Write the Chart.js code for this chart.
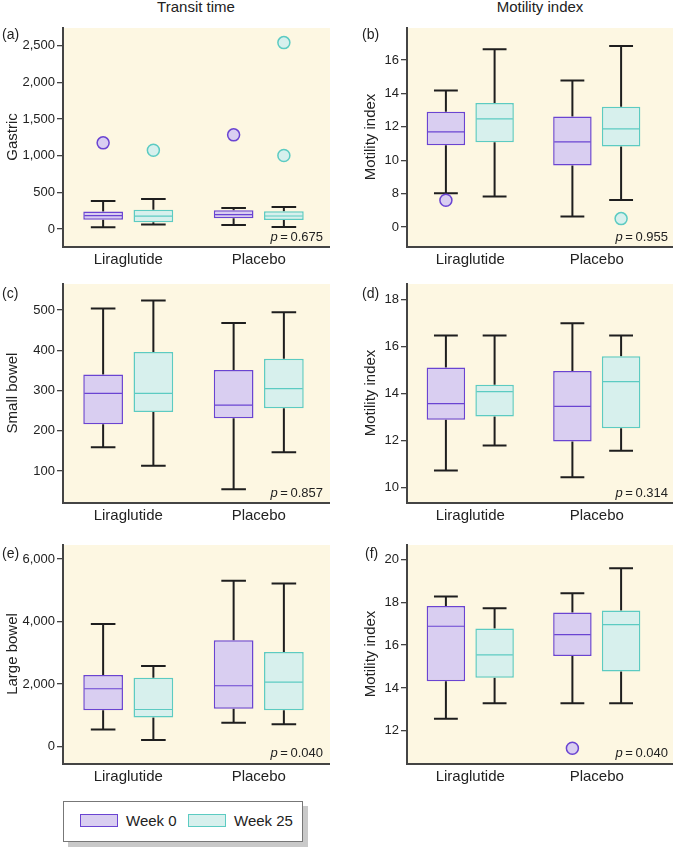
<!DOCTYPE html>
<html lang="en">
<head>
<meta charset="UTF-8">
<title>Transit time and motility index</title>
<script src="https://cdn.jsdelivr.net/npm/chart.js"></script>
<style>
  body {
    margin: 0;
    width: 673px;
    height: 847px;
    position: relative;
    overflow: hidden;
    background: #fff;
    font-family: "Liberation Sans", Arial, sans-serif;
    color: #222;
  }
  .panel { position: absolute; }
  .txt { position: absolute; white-space: nowrap; line-height: 16px; }
  .colTitle { font-size: 15px; top: -1px; transform: translateX(-50%); }
  .tag { font-size: 14px; }
  .pval { font-size: 13px; width: 90px; text-align: right; }
  .legend {
    position: absolute;
    left: 63px; top: 801px;
    width: 238px; height: 39px;
    border: 1px solid #777;
    background: #fff;
    box-shadow: 5px 5px 0 #c9c9c9;
  }
  .legend .sw { position: absolute; top: 12px; width: 36px; height: 11px; border: 1.5px solid; }
  .legend .lab { position: absolute; top: 11px; font-size: 15px; line-height: 16px; }
</style>
</head>
<body>
<div class="txt colTitle" style="left:196px">Transit time</div>
<div class="txt colTitle" style="left:540px">Motility index</div>

<canvas id="pa" class="panel"></canvas>
<canvas id="pb" class="panel"></canvas>
<canvas id="pc" class="panel"></canvas>
<canvas id="pd" class="panel"></canvas>
<canvas id="pe" class="panel"></canvas>
<canvas id="pf" class="panel"></canvas>

<div class="txt tag" style="left:2px;top:26px">(a)</div>
<div class="txt tag" style="left:362px;top:26px">(b)</div>
<div class="txt tag" style="left:2px;top:285px">(c)</div>
<div class="txt tag" style="left:362px;top:285px">(d)</div>
<div class="txt tag" style="left:2px;top:545px">(e)</div>
<div class="txt tag" style="left:365px;top:545px">(f)</div>

<div class="txt pval" style="left:233px;top:229px"><i>p</i>&thinsp;=&thinsp;0.675</div>
<div class="txt pval" style="left:578px;top:229px"><i>p</i>&thinsp;=&thinsp;0.955</div>
<div class="txt pval" style="left:233px;top:485px"><i>p</i>&thinsp;=&thinsp;0.857</div>
<div class="txt pval" style="left:578px;top:485px"><i>p</i>&thinsp;=&thinsp;0.314</div>
<div class="txt pval" style="left:233px;top:745px"><i>p</i>&thinsp;=&thinsp;0.040</div>
<div class="txt pval" style="left:578px;top:745px"><i>p</i>&thinsp;=&thinsp;0.040</div>

<div class="legend">
  <div class="sw" style="left:16px;background:#d9cef1;border-color:#6a44d2"></div>
  <div class="lab" style="left:62px">Week 0</div>
  <div class="sw" style="left:124px;background:#d7f0ed;border-color:#5ccbc2"></div>
  <div class="lab" style="left:170px">Week 25</div>
</div>

<script>
// categories
const groups = ['Liraglutide', 'Placebo'];

// box stats per group: [lower whisker, Q1, median, Q3, upper whisker]
const gastricWeek0 = [[25, 128, 185, 240, 383], [56, 148, 198, 257, 288]];
const gastricWeek25 = [[64, 92, 178, 265, 410], [29, 124, 179, 243, 302]];
const gastricOut0 = [[1175], [1284]];
const gastricOut25 = [[1075], [2541, 1003]];
const gastricTicks = [0, 500, 1000, 1500, 2000, 2500];
const gastricTickLabels = ['0', '500', '1,000', '1,500', '2,000', '2,500'];

const gastricMiWeek0 = [[8.02, 10.9, 11.7, 12.9, 14.18], [6.62, 9.68, 11.1, 12.62, 14.78]];
const gastricMiWeek25 = [[7.82, 11.08, 12.48, 13.42, 16.64], [7.62, 10.82, 11.88, 13.2, 16.84]];
const gastricMiOut0 = [[7.6], []];
const gastricMiOut25 = [[], [6.5]];
const gastricMiTicks = [6, 8, 10, 12, 14, 16];
const gastricMiTickLabels = ['0', '8', '10', '12', '14', '16'];

const smallWeek0 = [[159, 216, 293, 340, 504], [55, 231, 264, 351, 468]];
const smallWeek25 = [[113, 247, 293, 396, 524], [147, 256, 305, 379, 495]];
const smallTicks = [100, 200, 300, 400, 500];
const smallTickLabels = ['100', '200', '300', '400', '500'];

const smallMiWeek0 = [[10.74, 12.9, 13.58, 15.12, 16.48], [10.45, 11.97, 13.47, 14.97, 17.0]];
const smallMiWeek25 = [[11.8, 13.04, 14.09, 14.39, 16.48], [11.58, 12.54, 14.52, 15.6, 16.48]];
const smallMiTicks = [10, 12, 14, 16, 18];
const smallMiTickLabels = ['10', '12', '14', '16', '18'];

const largeWeek0 = [[546, 1165, 1852, 2289, 3926], [761, 1210, 1948, 3403, 5306]];
const largeWeek25 = [[214, 931, 1188, 2205, 2578], [716, 1165, 2064, 3027, 5222]];
const largeTicks = [0, 2000, 4000, 6000];
const largeTickLabels = ['0', '2,000', '4,000', '6,000'];

const largeMiWeek0 = [[12.56, 14.31, 16.88, 17.83, 18.27], [13.29, 15.49, 16.49, 17.52, 18.42]];
const largeMiWeek25 = [[13.29, 14.48, 15.54, 16.77, 17.72], [13.29, 14.77, 16.96, 17.61, 19.59]];
const largeMiOut0 = [[], [11.19]];
const largeMiTicks = [12, 14, 16, 18, 20];
const largeMiTickLabels = ['12', '14', '16', '18', '20'];

const seriesNames = ['Week 0', 'Week 25'];
const fills = ['#d9cef1', '#d7f0ed'];
const edges = ['#6a44d2', '#5ccbc2'];

Chart.defaults.font.family = '"Liberation Sans", Arial, sans-serif';
Chart.defaults.color = '#222';

// whiskers, medians, outliers and the cream plot background
const boxParts = {
  id: 'boxParts',
  beforeDraw(chart) {
    const a = chart.chartArea, ctx = chart.ctx;
    ctx.save();
    ctx.fillStyle = '#fdf7e2';
    ctx.fillRect(a.left, a.top, chart.width - a.left, a.bottom - a.top);
    ctx.restore();
  },
  beforeDatasetsDraw(chart, args, opts) {
    const ctx = chart.ctx, y = chart.scales.y;
    ctx.save();
    ctx.strokeStyle = '#1e1e1e';
    ctx.lineWidth = 2;
    opts.stats.forEach((series, i) => {
      chart.getDatasetMeta(i).data.forEach((el, j) => {
        const s = series[j];
        const cap = el.width * 0.31;
        ctx.beginPath();
        ctx.moveTo(el.x, y.getPixelForValue(s[4]));
        ctx.lineTo(el.x, y.getPixelForValue(s[3]));
        ctx.moveTo(el.x, y.getPixelForValue(s[1]));
        ctx.lineTo(el.x, y.getPixelForValue(s[0]));
        ctx.moveTo(el.x - cap, y.getPixelForValue(s[4]));
        ctx.lineTo(el.x + cap, y.getPixelForValue(s[4]));
        ctx.moveTo(el.x - cap, y.getPixelForValue(s[0]));
        ctx.lineTo(el.x + cap, y.getPixelForValue(s[0]));
        ctx.stroke();
      });
    });
    ctx.restore();
  },
  afterDatasetsDraw(chart, args, opts) {
    const ctx = chart.ctx, y = chart.scales.y;
    ctx.save();
    opts.stats.forEach((series, i) => {
      chart.getDatasetMeta(i).data.forEach((el, j) => {
        const s = series[j];
        const my = y.getPixelForValue(s[2]);
        ctx.strokeStyle = edges[i];
        ctx.lineWidth = 1.2;
        ctx.beginPath();
        ctx.moveTo(el.x - el.width / 2 + 1, my);
        ctx.lineTo(el.x + el.width / 2 - 1, my);
        ctx.stroke();
        const outs = (opts.outliers[i] || [])[j] || [];
        outs.forEach(v => {
          ctx.beginPath();
          ctx.arc(el.x, y.getPixelForValue(v), 6, 0, Math.PI * 2);
          ctx.fillStyle = fills[i];
          ctx.fill();
          ctx.lineWidth = 1.5;
          ctx.stroke();
        });
      });
    });
    ctx.restore();
  },
  afterDraw(chart) {
    const a = chart.chartArea, ctx = chart.ctx;
    ctx.save();
    ctx.strokeStyle = '#444';
    ctx.lineWidth = 2;
    ctx.beginPath();
    ctx.moveTo(a.left - 1, a.bottom + 1);
    ctx.lineTo(chart.width, a.bottom + 1);
    ctx.stroke();
    ctx.restore();
  }
};

function panel(id, col, row, p) {
  const rowTop = [18, 274, 535][row];
  const left = col === 0 ? 0 : 330;
  const width = col === 0 ? 330 : 343;
  const canvas = document.getElementById(id);
  canvas.width = width;
  canvas.height = 254;
  canvas.style.left = left + 'px';
  canvas.style.top = rowTop + 'px';

  new Chart(canvas, {
    type: 'bar',
    data: {
      labels: groups,
      datasets: [p.week0, p.week25].map((st, i) => ({
        label: seriesNames[i],
        data: st.map(s => [s[1], s[3]]),
        backgroundColor: fills[i],
        borderColor: edges[i],
        borderWidth: 1.5,
        borderSkipped: false,
        categoryPercentage: 0.77,
        barPercentage: 0.79
      }))
    },
    options: {
      responsive: false,
      animation: false,
      devicePixelRatio: 1,
      layout: { padding: { top: 10, right: col === 0 ? 6 : 13, left: 0, bottom: 0 } },
      plugins: {
        legend: { display: false },
        tooltip: { enabled: false },
        boxParts: { stats: [p.week0, p.week25], outliers: [p.out0, p.out25] }
      },
      scales: {
        x: {
          grid: { display: false, drawTicks: false },
          border: { display: false },
          ticks: { font: { size: 15 }, color: '#222', padding: 5 },
          afterFit: s => { s.height = 26; }
        },
        y: {
          min: p.min,
          max: p.max,
          grid: { drawOnChartArea: false, drawTicks: true, tickLength: 6, color: '#444', lineWidth: 1.3 },
          border: { display: true, color: '#444', width: 2 },
          ticks: {
            font: { size: 13 },
            color: '#222',
            padding: 2,
            callback: (v, i) => p.tickLabels[i]
          },
          afterBuildTicks: s => { s.ticks = p.ticks.map(v => ({ value: v })); },
          title: {
            display: true,
            text: p.title,
            font: { size: 15 },
            color: '#222',
            padding: { top: col === 0 ? 4 : 32, bottom: 0 }
          },
          afterFit: s => { s.width = col === 0 ? 63 : 77; }
        }
      }
    },
    plugins: [boxParts]
  });
}

panel('pa', 0, 0, { title: 'Gastric', week0: gastricWeek0, week25: gastricWeek25, out0: gastricOut0, out25: gastricOut25,
  ticks: gastricTicks, tickLabels: gastricTickLabels, min: -230, max: 2740 });
panel('pb', 1, 0, { title: 'Motility index', week0: gastricMiWeek0, week25: gastricMiWeek25, out0: gastricMiOut0, out25: gastricMiOut25,
  ticks: gastricMiTicks, tickLabels: gastricMiTickLabels, min: 4.86, max: 17.92 });
panel('pc', 0, 1, { title: 'Small bowel', week0: smallWeek0, week25: smallWeek25,
  ticks: smallTicks, tickLabels: smallTickLabels, min: 23, max: 565 });
panel('pd', 1, 1, { title: 'Motility index', week0: smallMiWeek0, week25: smallMiWeek25,
  ticks: smallMiTicks, tickLabels: smallMiTickLabels, min: 9.4, max: 18.67 });
panel('pe', 0, 2, { title: 'Large bowel', week0: largeWeek0, week25: largeWeek25,
  ticks: largeTicks, tickLabels: largeTickLabels, min: -523, max: 6452 });
panel('pf', 1, 2, { title: 'Motility index', week0: largeMiWeek0, week25: largeMiWeek25, out0: largeMiOut0,
  ticks: largeMiTicks, tickLabels: largeMiTickLabels, min: 10.5, max: 20.67 });
</script>
</body>
</html>
